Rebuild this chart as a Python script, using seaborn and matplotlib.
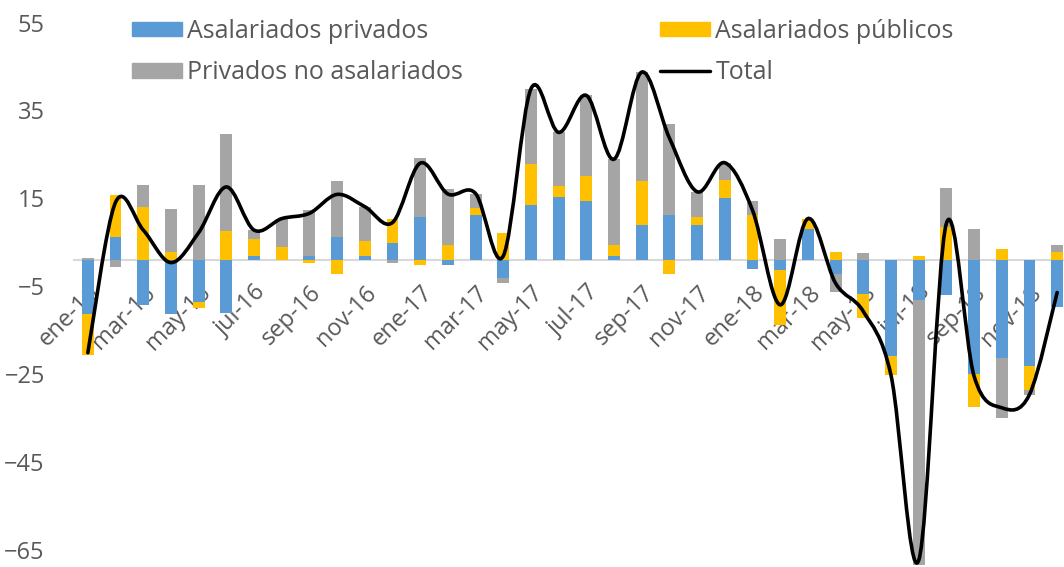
import numpy as np
import matplotlib
matplotlib.use("Agg")
import matplotlib.pyplot as plt
import matplotlib.transforms as mtransforms
from matplotlib.path import Path
from matplotlib.patches import PathPatch, Patch
from matplotlib.lines import Line2D
import seaborn as sns

# Datos mensuales (contribución a la variación)
meses = ["ene-16", "feb-16", "mar-16", "abr-16", "may-16", "jun-16",
         "jul-16", "ago-16", "sep-16", "oct-16", "nov-16", "dic-16",
         "ene-17", "feb-17", "mar-17", "abr-17", "may-17", "jun-17",
         "jul-17", "ago-17", "sep-17", "oct-17", "nov-17", "dic-17",
         "ene-18", "feb-18", "mar-18", "abr-18", "may-18", "jun-18",
         "jul-18", "ago-18", "sep-18", "oct-18", "nov-18", "dic-18"]

asal_privados = [-12.4, 5.2, -10.3, -12.2, -9.6, -12.0, 1.0, 0.0, 1.0, 5.2, 1.0, 3.8,
                 9.8, -1.1, 10.2, -4.0, 12.6, 14.4, 13.5, 1.0, 8.0, 10.3, 8.0, 14.0,
                 -2.1, -2.2, 7.1, -3.2, -7.8, -21.8, -9.0, -8.0, -26.0, -22.4, -24.1, -10.7]
asal_publicos = [-9.2, 9.6, 12.1, 1.9, -1.3, 6.6, 3.8, 2.9, -0.7, -3.1, 3.3, 5.4,
                 -1.1, 3.4, 1.5, 6.2, 9.2, 2.3, 5.5, 2.5, 10.0, -3.1, 1.8, 4.1,
                 10.2, -12.7, 2.3, 1.9, -5.4, -4.4, 1.0, 7.5, -7.4, 2.4, -5.5, 1.9]
priv_no_asal = [0.5, -1.7, 5.0, 9.7, 17.1, 22.0, 2.0, 6.5, 10.3, 12.8, 7.8, -0.7,
                13.3, 12.7, 3.4, -1.3, 17.1, 12.3, 18.4, 19.4, 24.7, 20.5, 5.7, 4.0,
                3.2, 4.7, 0.0, -4.0, 1.5, 0.0, -60.3, 8.8, 7.0, -13.6, -1.0, 1.4]

etiquetas = ["Asalariados privados", "Asalariados públicos", "Privados no asalariados"]
colores = ["#5B9BD5", "#FFC000", "#A5A5A5"]
gris_txt = "#595959"

sns.set_style("white")
plt.rcParams["font.family"] = ["Open Sans", "DejaVu Sans"]

fig = plt.figure(figsize=(10.64, 5.67), dpi=100)
ax = fig.add_axes([74 / 1064, 0, 997 / 1064, 549 / 567])

vals = np.array([asal_privados, asal_publicos, priv_no_asal])
pos = np.clip(vals, 0, None).cumsum(axis=0)
neg = np.clip(vals, None, 0).cumsum(axis=0)

# barras apiladas: se dibuja de la capa exterior a la interior
for k in [2, 1, 0]:
    for acum in (pos, neg):
        sns.barplot(x=meses, y=acum[k], color=colores[k], width=0.43,
                    saturation=1, errorbar=None, linewidth=0, ax=ax, zorder=2)

# línea total suavizada (bezier tipo Excel)
total = vals.sum(axis=0)
pts = np.column_stack([np.arange(len(total)), total])
verts = [pts[0]]
codes = [Path.MOVETO]
n = len(pts)
for i in range(n - 1):
    p0, p1 = pts[max(i - 1, 0)], pts[i]
    p2, p3 = pts[i + 1], pts[min(i + 2, n - 1)]
    verts += [p1 + (p2 - p0) / 6, p2 - (p3 - p1) / 6, p2]
    codes += [Path.CURVE4] * 3
ax.add_patch(PathPatch(Path(verts, codes), fill=False, lw=2.6,
                       edgecolor="black", zorder=3, capstyle="round"))

ax.set_xlim(-0.5, 35.5)
ax.set_ylim(-69.8, 55)
ax.set_yticks(np.arange(-65, 56, 20))
ax.set_xticks(range(0, len(meses), 2))
ax.set_xticklabels(meses[::2])
ax.set_xlabel("")
ax.set_ylabel("")
for lado in ["top", "right", "left"]:
    ax.spines[lado].set_visible(False)
ax.spines["bottom"].set_position(("data", 0))
ax.spines["bottom"].set_color("#D9D9D9")
ax.spines["bottom"].set_linewidth(1.5)
ax.spines["bottom"].set_zorder(1)
ax.tick_params(axis="x", length=0, pad=15, labelsize=17, labelcolor=gris_txt)
ax.tick_params(axis="y", length=0, pad=21, labelsize=17, labelcolor=gris_txt)
plt.setp(ax.get_xticklabels(), rotation=45, ha="right", va="top",
         rotation_mode="anchor")
# etiquetas del eje y algo más abajo, como en Excel
bajar = mtransforms.ScaledTranslation(0, -4.5 / 100, fig.dpi_scale_trans)
for lab in ax.get_yticklabels():
    lab.set_transform(lab.get_transform() + bajar)

handles = [Patch(color=colores[0]), Patch(color=colores[2]),
           Patch(color=colores[1]), Line2D([], [], color="black", lw=2.5)]
nombres = [etiquetas[0], etiquetas[2], etiquetas[1], "Total"]
fig.legend(handles, nombres, ncol=2, loc="upper left",
           bbox_to_anchor=(132 / 1064, 1 - 19 / 567), frameon=False,
           handlelength=2.0, handleheight=0.5, handletextpad=0.2,
           columnspacing=7.9, labelspacing=0.65, borderpad=0, borderaxespad=0,
           fontsize=18, labelcolor=gris_txt)

fig.savefig("out.png", dpi=100)
plt.close(fig)
